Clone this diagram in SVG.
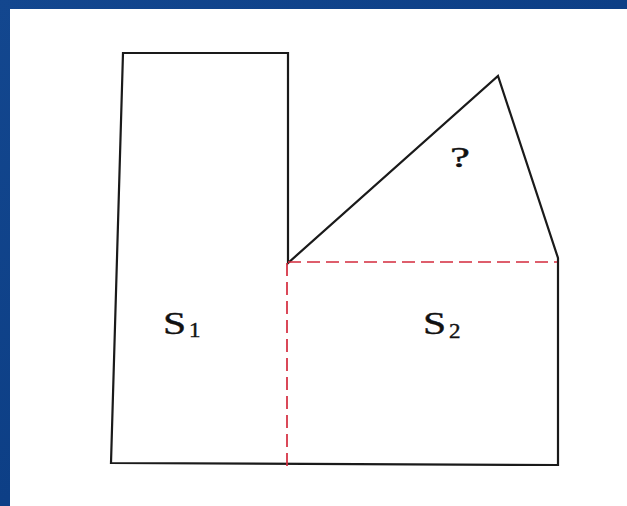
<svg xmlns="http://www.w3.org/2000/svg" width="627" height="506" viewBox="0 0 627 506">
  <defs>
    <linearGradient id="bg" x1="0" y1="0" x2="1" y2="1">
      <stop offset="0" stop-color="#13478f"/>
      <stop offset="0.5" stop-color="#0d3f86"/>
      <stop offset="1" stop-color="#114590"/>
    </linearGradient>
  </defs>
  <style>
    .outline { fill: none; stroke: #1a1a1a; stroke-width: 2.2; stroke-linejoin: miter; }
    .dash { fill: none; stroke: #d42a3c; stroke-width: 1.7; stroke-dasharray: 13 6; }
    .lbl { font-family: "Liberation Serif", "Times New Roman", serif; fill: #111; stroke: #111; stroke-width: 0.4; }
  </style>
  <rect x="0" y="0" width="627" height="506" fill="url(#bg)"/>
  <rect x="10" y="9" width="617" height="497" fill="#ffffff"/>

  <g id="shape">
    <polygon class="outline" points="123,53 288,53 288,263 498,76 558,258 558,465 111,463"/>
  </g>

  <g id="connectors">
    <line class="dash" x1="288" y1="262" x2="557" y2="262"/>
    <line class="dash" x1="287" y1="263" x2="287" y2="467"/>
  </g>

  <g id="s1">
    <text class="lbl" font-size="32" transform="translate(163,334) scale(1.3,1)">S</text>
    <text class="lbl" font-size="20" transform="translate(189,337) scale(1.15,1)">1</text>
  </g>
  <g id="s2">
    <text class="lbl" font-size="32" transform="translate(423,334) scale(1.3,1)">S</text>
    <text class="lbl" font-size="20" transform="translate(449,338) scale(1.15,1)">2</text>
  </g>
  <g id="unknown">
    <text class="lbl" font-size="30" transform="translate(450,167) scale(1.5,1)">?</text>
  </g>
</svg>
